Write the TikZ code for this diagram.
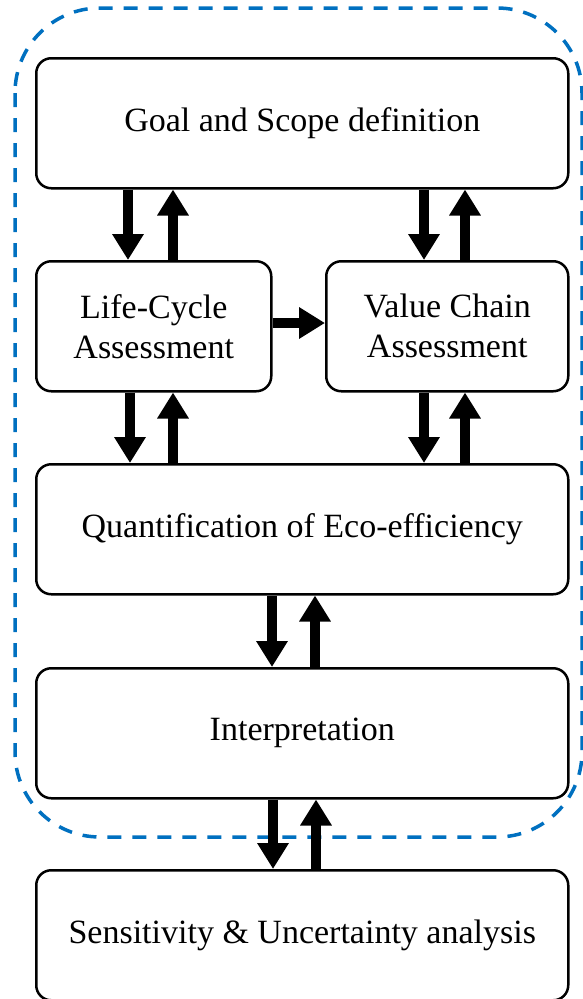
\documentclass[tikz,border=0pt]{standalone}
\usepackage{fontspec}
\setmainfont{Liberation Serif}
\usetikzlibrary{arrows.meta}
\definecolor{dashblue}{HTML}{0070C0}
\tikzset{
  box/.style={draw=black, line width=2.5pt, rounded corners=15pt, fill=white, align=center, inner sep=0pt,
    font=\fontsize{34}{40}\selectfont},
  arr/.style={line width=10pt, -{Triangle[width=30pt,length=26pt]}},
  frame/.style={draw=dashblue, line width=3.5pt, dash pattern=on 14pt off 11pt, rounded corners=85pt}
}
\begin{document}
\begin{tikzpicture}[x=1pt,y=-1pt]
\useasboundingbox (0,0) rectangle (582,999);
\draw[frame] (15,8) rectangle (582,837);
\node[box, minimum width=532pt, minimum height=130pt, anchor=north west] (goal) at (35,57) {Goal and Scope definition};
\node[box, minimum width=235pt, minimum height=130pt, anchor=north west] (lca) at (35,260) {Life-Cycle\\Assessment};
\node[box, minimum width=242pt, minimum height=130pt, anchor=north west] (vca) at (325,260) {Value Chain\\Assessment};
\node[box, minimum width=532pt, minimum height=130pt, anchor=north west] (quant) at (35,463) {Quantification of Eco-efficiency};
\node[box, minimum width=532pt, minimum height=130pt, anchor=north west] (interp) at (35,667) {Interpretation};
\node[box, minimum width=532pt, minimum height=130pt, anchor=north west] (sens) at (35,869) {Sensitivity \& Uncertainty analysis};
% goal <-> lca
\draw[arr] (goal.south -| 128,0) -- (lca.north -| 128,0);
\draw[arr] (lca.north -| 173,0) -- (goal.south -| 173,0);
% goal <-> vca
\draw[arr] (goal.south -| 424,0) -- (vca.north -| 424,0);
\draw[arr] (vca.north -| 465,0) -- (goal.south -| 465,0);
% lca -> vca
\draw[arr] (lca.east |- 0,323) -- (vca.west |- 0,323);
% lca <-> quant
\draw[arr] (lca.south -| 130,0) -- (quant.north -| 130,0);
\draw[arr] (quant.north -| 173,0) -- (lca.south -| 173,0);
% vca <-> quant
\draw[arr] (vca.south -| 424,0) -- (quant.north -| 424,0);
\draw[arr] (quant.north -| 465,0) -- (vca.south -| 465,0);
% quant <-> interp
\draw[arr] (quant.south -| 272,0) -- (interp.north -| 272,0);
\draw[arr] (interp.north -| 315,0) -- (quant.south -| 315,0);
% interp <-> sens
\draw[arr] (interp.south -| 273,0) -- (sens.north -| 273,0);
\draw[arr] (sens.north -| 316,0) -- (interp.south -| 316,0);
\end{tikzpicture}
\end{document}
